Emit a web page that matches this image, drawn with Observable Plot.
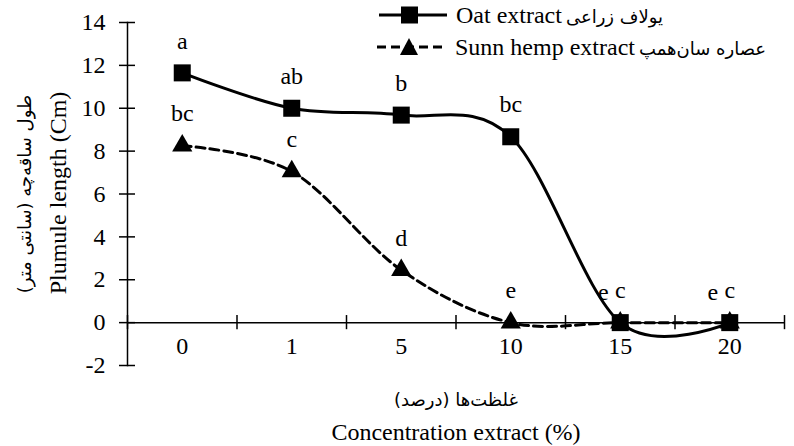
<!DOCTYPE html>
<html>
<head>
<meta charset="utf-8">
<script src="https://cdn.jsdelivr.net/npm/d3@7"></script>
<script src="https://cdn.jsdelivr.net/npm/@observablehq/plot@0.6"></script>
<style>
  body { margin: 0; background: #fff; }
  #wrap { position: relative; width: 794px; height: 446px; overflow: hidden; font-family: "Liberation Serif", "Times New Roman", serif; color: #000; }
  #wrap svg text { font-family: "Liberation Serif", "Times New Roman", serif; }
  .ov { position: absolute; white-space: nowrap; line-height: 1; }
  .en { font-family: "Liberation Serif", "Times New Roman", serif; font-size: 24px; }
  .fa { font-family: "DejaVu Sans", sans-serif; font-size: 18px; }
</style>
</head>
<body>
<div id="wrap"></div>
<script>
const categories = ["0", "1", "5", "10", "15", "20"];
const oatValues = [11.65, 10.0, 9.68, 8.67, 0, 0];
const sunnValues = [8.25, 7.05, 2.45, 0, 0, 0];
const oatLetters = ["a", "ab", "b", "bc", "c", "c"];
const sunnLetters = ["bc", "c", "d", "e", "e", "e"];
const yTicks = [-2, 0, 2, 4, 6, 8, 10, 12, 14];
const oatName = "Oat extract";
const oatNameFa = "یولاف زراعی";
const sunnName = "Sunn hemp extract";
const sunnNameFa = "عصاره سان‌همپ";
const xTitleFa = "غلظت‌ها (درصد)";
const xTitle = "Concentration extract (%)";
const yTitleFa = "طول ساقه‌چه (سانتی متر)";
const yTitle = "Plumule length (Cm)";

const oat = categories.map((c, i) => ({i, c, v: oatValues[i], l: oatLetters[i]}));
const sunn = categories.map((c, i) => ({i, c, v: sunnValues[i], l: sunnLetters[i], shared: sunnValues[i] === oatValues[i]}));
const boundaries = d3.range(categories.length + 1).map(k => k - 0.5);
const smooth = d3.curveCardinal.tension(0);
const font = '"Liberation Serif", "Times New Roman", serif';

const chart = Plot.plot({
  width: 794,
  height: 446,
  marginLeft: 127,
  marginRight: 10,
  marginTop: 22,
  marginBottom: 81,
  style: {fontFamily: font, color: "#000", background: "#fff"},
  x: {type: "linear", domain: [-0.5, categories.length - 0.5], axis: null},
  y: {domain: [yTicks[0], yTicks[yTicks.length - 1]], axis: null},
  marks: [
    Plot.frame({anchor: "left", stroke: "#000", strokeWidth: 1.5}),
    Plot.axisY({ticks: yTicks, tickSize: 16, dx: 8, tickPadding: 14, fontSize: 24, label: null, tickFormat: d => String(d), strokeWidth: 1.5, fontFamily: font}),
    Plot.ruleY([0], {stroke: "#000", strokeWidth: 1.5}),
    Plot.ruleX(boundaries, {y1: -0.33, y2: 0.33, stroke: "#000", strokeWidth: 1.5}),
    Plot.text(categories, {x: (d, i) => i, frameAnchor: "bottom", dy: -12, fontSize: 24, fontFamily: font}),
    Plot.line(sunn, {x: "i", y: "v", curve: smooth, stroke: "#000", strokeWidth: 3, strokeDasharray: "9,5"}),
    Plot.line(oat, {x: "i", y: "v", curve: smooth, stroke: "#000", strokeWidth: 3}),
    Plot.dot(sunn, {x: "i", y: "v", symbol: "triangle", r: 7.5, fill: "#000", stroke: "none"}),
    Plot.dot(oat, {x: "i", y: "v", symbol: "square", r: 9.6, fill: "#000", stroke: "none"}),
    Plot.text(oat, {x: "i", y: "v", text: "l", dy: -32, fontSize: 24, fontFamily: font}),
    Plot.text(sunn.filter(d => !d.shared), {x: "i", y: "v", text: "l", dy: -32, fontSize: 24, fontFamily: font}),
    Plot.text(sunn.filter(d => d.shared), {x: "i", y: "v", text: "l", dy: -30, dx: -17, fontSize: 24, fontFamily: font})
  ]
});

const wrap = document.getElementById("wrap");
wrap.appendChild(chart);

function overlay(html, style) {
  const d = document.createElement("div");
  d.className = "ov";
  d.innerHTML = html;
  Object.assign(d.style, style);
  wrap.appendChild(d);
  return d;
}

// legend
const sw1 = `<svg width="70" height="20"><line x1="0" y1="10" x2="68" y2="10" stroke="#000" stroke-width="3"/><rect x="22" y="1.5" width="17" height="17" fill="#000"/></svg>`;
const sw2 = `<svg width="72" height="20"><line x1="0" y1="10" x2="70" y2="10" stroke="#000" stroke-width="3" stroke-dasharray="9,5"/><path d="M32,1 L41,18 L23,18 Z" fill="#000"/></svg>`;
overlay(`<span class="en">${oatName}</span> <span class="fa">${oatNameFa}</span>`, {left: "456px", top: "3px"});
overlay(`<span class="en">${sunnName}</span> <span class="fa">${sunnNameFa}</span>`, {left: "455px", top: "35px"});
const l1 = document.createElement("div"); l1.innerHTML = sw1; Object.assign(l1.style, {position: "absolute", left: "379px", top: "5px", lineHeight: 0}); wrap.appendChild(l1);
const l2 = document.createElement("div"); l2.innerHTML = sw2; Object.assign(l2.style, {position: "absolute", left: "377px", top: "37px", lineHeight: 0}); wrap.appendChild(l2);

// x title
overlay(`<span class="fa">${xTitleFa}</span>`, {left: "456px", top: "400px", transform: "translate(-50%, -50%)"});
overlay(`<span class="en">${xTitle}</span>`, {left: "456px", top: "432px", transform: "translate(-50%, -50%)"});
// y title
overlay(`<span class="fa">${yTitleFa}</span>`, {left: "25px", top: "194px", transform: "translate(-50%, -50%) rotate(-90deg)"});
overlay(`<span class="en">${yTitle}</span>`, {left: "58px", top: "193px", transform: "translate(-50%, -50%) rotate(-90deg)"});
</script>
</body>
</html>
